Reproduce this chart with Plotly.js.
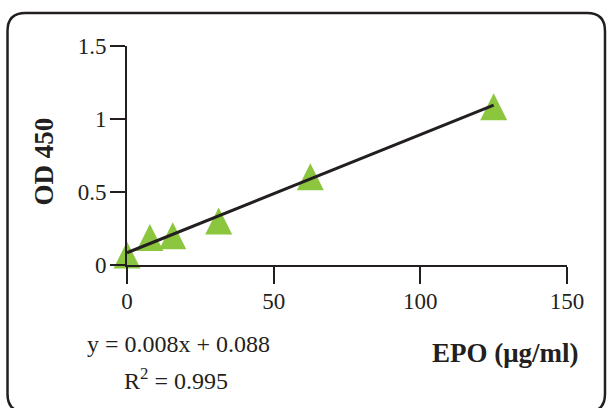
<!DOCTYPE html>
<html>
<head>
<meta charset="utf-8">
<script src="https://cdn.plot.ly/plotly-3.0.1.min.js"></script>
<style>
  html, body { margin: 0; padding: 0; background: #ffffff; overflow: hidden; }
  #chart { width: 607px; height: 408px; }
</style>
</head>
<body>
<div id="chart"></div>
<script>
// Data
const epo = [0, 7.8, 15.6, 31.25, 62.5, 125];
const od = [0.072, 0.192, 0.203, 0.305, 0.608, 1.087];
const fitX = [0, 125];
const fitY = [0.084, 1.095];
const xTickVals = [0, 50, 100, 150];
const xTickText = ['0', '50', '100', '150'];
const yTickVals = [0, 0.5, 1, 1.5];
const yTickText = ['0', '0.5', '1', '1.5'];
const xTitle = '<b>EPO (μg/ml)</b>';
const yTitle = '<b>OD 450</b>';
const eqText = 'y = 0.008x + 0.088';
const r2Text = 'R<sup>2</sup> = 0.995';

const INK = '#231f20';
const GREEN = '#8cc63f';
const FONT = 'Liberation Serif, Times New Roman, serif';

// plot area geometry in pixels
const L = 127, R = 567, T = 46, B = 265, W = 607, H = 408;
const px = x => +((x - L) / (R - L)).toFixed(5);
const py = y => +((B - y) / (B - T)).toFixed(5);

function roundedRect(l, t, r, b, rad) {
  return 'M' + px(l + rad) + ',' + py(t) +
    ' L' + px(r - rad) + ',' + py(t) +
    ' Q' + px(r) + ',' + py(t) + ' ' + px(r) + ',' + py(t + rad) +
    ' L' + px(r) + ',' + py(b - rad) +
    ' Q' + px(r) + ',' + py(b) + ' ' + px(r - rad) + ',' + py(b) +
    ' L' + px(l + rad) + ',' + py(b) +
    ' Q' + px(l) + ',' + py(b) + ' ' + px(l) + ',' + py(b - rad) +
    ' L' + px(l) + ',' + py(t + rad) +
    ' Q' + px(l) + ',' + py(t) + ' ' + px(l + rad) + ',' + py(t) + ' Z';
}

const traces = [
  {
    // equilateral-looking triangle: arrow-down turned 180 deg, centred on the point
    x: epo, y: od, type: 'scatter', mode: 'markers',
    marker: { symbol: 'arrow-down', size: 27, angle: 180, standoff: 13,
              color: GREEN, line: { width: 0 } },
    cliponaxis: false, hoverinfo: 'skip'
  },
  {
    x: fitX, y: fitY, type: 'scatter', mode: 'lines',
    line: { color: INK, width: 3 },
    cliponaxis: false, hoverinfo: 'skip'
  }
];

const layout = {
  width: W, height: H,
  margin: { l: L, r: W - R, t: T, b: H - B, pad: 0 },
  paper_bgcolor: '#ffffff', plot_bgcolor: '#ffffff',
  showlegend: false,
  font: { family: FONT, color: INK },
  xaxis: {
    range: [0, 150], tickvals: xTickVals, ticktext: xTickText,
    showgrid: false, zeroline: false, showline: true, linecolor: INK, linewidth: 2,
    ticks: 'outside', ticklen: 17, tickwidth: 2, tickcolor: INK,
    tickfont: { family: FONT, size: 23, color: INK }, ticklabelstandoff: -3,
    fixedrange: true
  },
  yaxis: {
    range: [0, 1.5], tickvals: yTickVals, ticktext: yTickText,
    showgrid: false, zeroline: false, showline: true, linecolor: INK, linewidth: 2,
    ticks: 'outside', ticklen: 15, tickwidth: 2, tickcolor: INK,
    tickfont: { family: FONT, size: 23, color: INK }, ticklabelstandoff: -1,
    fixedrange: true
  },
  annotations: [
    { text: yTitle, xref: 'paper', yref: 'paper', x: px(43.5), y: py(162),
      xanchor: 'center', yanchor: 'middle', textangle: -90, showarrow: false,
      font: { family: FONT, size: 27, color: INK } },
    { text: xTitle, xref: 'paper', yref: 'paper', x: px(506), y: py(353),
      xanchor: 'center', yanchor: 'middle', showarrow: false,
      font: { family: FONT, size: 27, color: INK } },
    { text: eqText, xref: 'paper', yref: 'paper', x: px(179), y: py(344),
      xanchor: 'center', yanchor: 'middle', showarrow: false,
      font: { family: FONT, size: 24, color: INK } },
    { text: r2Text, xref: 'paper', yref: 'paper', x: px(176), y: py(379),
      xanchor: 'center', yanchor: 'middle', showarrow: false,
      font: { family: FONT, size: 24, color: INK } }
  ],
  shapes: [
    { type: 'path', xref: 'paper', yref: 'paper', path: roundedRect(7.5, 13, 605, 412, 18),
      line: { color: INK, width: 2.5 }, fillcolor: 'rgba(0,0,0,0)', layer: 'below' }
  ]
};

Plotly.newPlot('chart', traces, layout, { displayModeBar: false, staticPlot: true });
</script>
</body>
</html>
